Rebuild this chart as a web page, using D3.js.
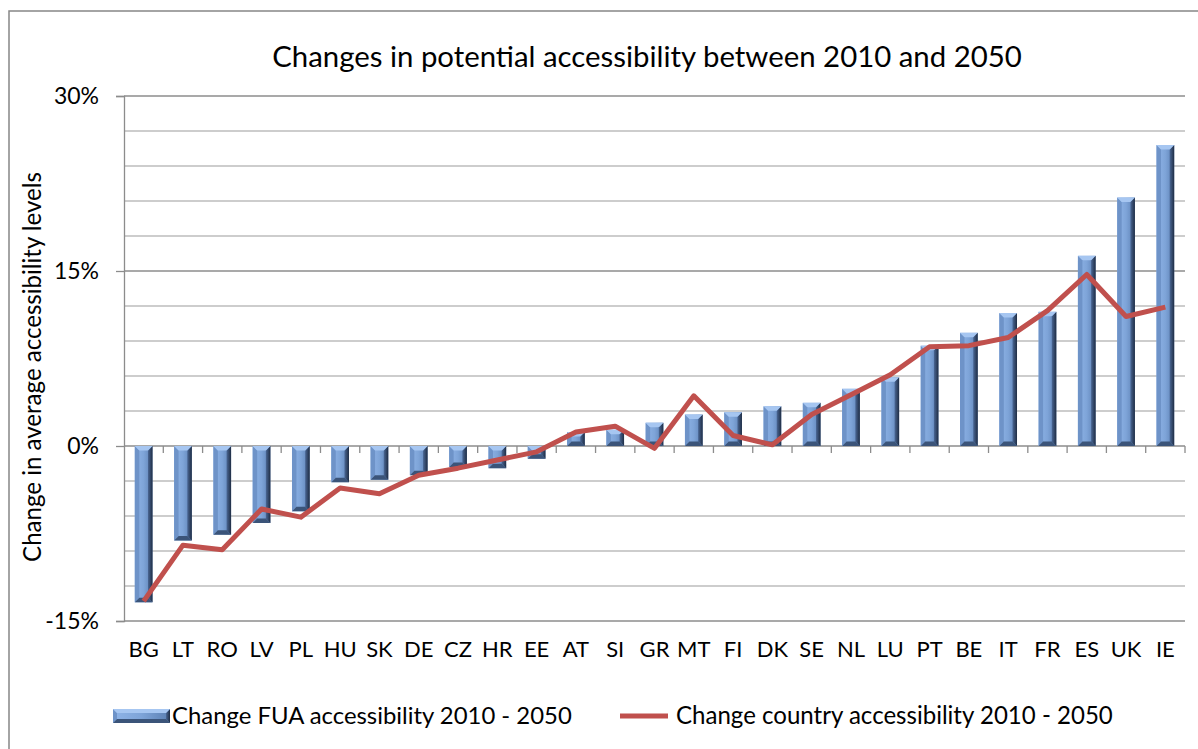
<!DOCTYPE html>
<html><head><meta charset="utf-8">
<script src="https://cdn.jsdelivr.net/npm/d3@7"></script>
<style>
body{margin:0;background:#fff}
svg{display:block}
text{font-family:Lato,"Open Sans",sans-serif;fill:#000}
</style>
</head><body>
<svg id="c" width="1198" height="749"></svg>
<script>
const categories = ["BG","LT","RO","LV","PL","HU","SK","DE","CZ","HR","EE","AT","SI","GR","MT","FI","DK","SE","NL","LU","PT","BE","IT","FR","ES","UK","IE"];
const fuaChange = [-13.4,-8.1,-7.6,-6.6,-5.6,-3.1,-2.9,-2.5,-1.8,-1.9,-1.1,1.2,1.4,2.0,2.7,2.9,3.4,3.7,4.9,5.9,8.6,9.7,11.4,11.5,16.3,21.3,25.8];
const countryChange = [-13.3,-8.5,-8.9,-5.4,-6.1,-3.6,-4.1,-2.5,-1.9,-1.2,-0.5,1.2,1.7,-0.2,4.3,0.9,0.1,2.7,4.4,6.1,8.5,8.6,9.3,11.6,14.7,11.1,11.9];
const yTickValues = [-15,0,15,30];
const gridValues = d3.range(-15, 31, 3);
const titleText = "Changes in potential accessibility between 2010 and 2050";
const yTitleText = "Change in average accessibility levels";
const legendBarText = "Change FUA accessibility 2010 - 2050";
const legendLineText = "Change country accessibility 2010 - 2050";

const svg = d3.select("#c");
const L = 124, R = 1185, T = 96, B = 621;

const x = d3.scaleBand().domain(categories).range([L, R]).paddingInner(0.55).paddingOuter(0.275);
const y = d3.scaleLinear().domain([-15, 30]).range([B, T]);

function fit(sel, target){
  const w = sel.node().getComputedTextLength();
  const fs = parseFloat(sel.attr("font-size"));
  sel.attr("font-size", fs * target / w);
}

// outer border
svg.append("path").attr("d", `M9,749 L9,11 L1198,11`).attr("fill","none").attr("stroke","#878787").attr("stroke-width",1.5);

// gridlines
svg.append("g").selectAll("line").data(gridValues).join("line")
  .attr("x1", L).attr("x2", R)
  .attr("y1", d => y(d)).attr("y2", d => y(d))
  .attr("stroke", d => d % 15 === 0 ? "#8c8c8c" : "#bdbdbd")
  .attr("stroke-width", 1.3);

// y axis
const yAxis = svg.append("g").attr("transform", `translate(${L},0)`)
  .call(d3.axisLeft(y).tickValues(yTickValues).tickFormat(d => d + "%").tickSize(8).tickPadding(17));
yAxis.select(".domain").attr("stroke","#8c8c8c").attr("stroke-width",1.3);
yAxis.selectAll(".tick line").attr("stroke","#8c8c8c").attr("stroke-width",1.3);
yAxis.selectAll(".tick text").attr("font-size",23).attr("font-family","Lato, 'Open Sans', sans-serif").attr("fill","#000").attr("dy","0.34em");

// x category ticks at boundaries along zero line
const step = x.step();
const bounds = d3.range(1, categories.length + 1).map(i => x(categories[i-1]) - x.bandwidth()*0 + (step - x.bandwidth())/2 + x.bandwidth());
svg.append("g").selectAll("line").data(bounds).join("line")
  .attr("x1", d => d).attr("x2", d => d)
  .attr("y1", y(0)).attr("y2", y(0) + 7)
  .attr("stroke","#8c8c8c").attr("stroke-width",1.3);

// x labels
svg.append("g").selectAll("text").data(categories).join("text")
  .attr("x", d => x(d) + x.bandwidth()/2)
  .attr("y", 657)
  .attr("text-anchor","middle")
  .attr("font-size", 22)
  .text(d => d);

// bars with bevel
const defs = svg.append("defs");
const g1 = defs.append("linearGradient").attr("id","barc").attr("x1","0").attr("x2","1").attr("y1","0").attr("y2","0");
g1.append("stop").attr("offset","0").attr("stop-color","#8fb4e7");
g1.append("stop").attr("offset","0.5").attr("stop-color","#7ea4d8");
g1.append("stop").attr("offset","1").attr("stop-color","#5b7fb2");
const g2 = defs.append("linearGradient").attr("id","barr").attr("x1","0").attr("x2","1").attr("y1","0").attr("y2","0");
g2.append("stop").attr("offset","0").attr("stop-color","#4a6795");
g2.append("stop").attr("offset","1").attr("stop-color","#1f2d44");

function bevel(g, x0, y0, w, h, b){
  const x1 = x0 + w, y1 = y0 + h;
  b = Math.min(b, h/2, w/2);
  g.append("rect").attr("x",x0).attr("y",y0).attr("width",w).attr("height",h).attr("fill","url(#barc)");
  g.append("polygon").attr("points",`${x0},${y0} ${x0+b},${y0+b} ${x0+b},${y1-b} ${x0},${y1}`).attr("fill","#6e93c8");
  g.append("polygon").attr("points",`${x1},${y0} ${x1-b},${y0+b} ${x1-b},${y1-b} ${x1},${y1}`).attr("fill","url(#barr)");
  g.append("polygon").attr("points",`${x0},${y0} ${x1},${y0} ${x1-b},${y0+b} ${x0+b},${y0+b}`).attr("fill","#a6c6f1");
  g.append("polygon").attr("points",`${x0},${y1} ${x0+b},${y1-b} ${x1-b},${y1-b} ${x1},${y1}`).attr("fill","#3b5479");
}

const barsG = svg.append("g");
categories.forEach((c, i) => {
  const v = fuaChange[i];
  const y0 = Math.min(y(v), y(0)), h = Math.abs(y(v) - y(0));
  bevel(barsG.append("g"), x(c), y0, x.bandwidth(), h, 4.5);
});

// line
const line = d3.line().x((d,i) => x(categories[i]) + x.bandwidth()/2).y(d => y(d));
svg.append("path").datum(countryChange).attr("d", line)
  .attr("fill","none").attr("stroke","#c0504d").attr("stroke-width",5).attr("stroke-linejoin","round");

// title
const tt = svg.append("text").attr("x",647).attr("y",67).attr("text-anchor","middle").attr("font-size",28).text(titleText);
fit(tt, 750);

// y title
const yt = svg.append("text").attr("transform","translate(41,367) rotate(-90)").attr("text-anchor","middle").attr("font-size",21).text(yTitleText);
fit(yt, 390);

// legend
bevel(svg.append("g"), 113, 709, 57, 14, 4);
const lt1 = svg.append("text").attr("x",172).attr("y",724).attr("font-size",22).text(legendBarText);
fit(lt1, 400);
svg.append("line").attr("x1",620).attr("x2",668).attr("y1",716).attr("y2",716).attr("stroke","#c0504d").attr("stroke-width",5);
const lt2 = svg.append("text").attr("x",676).attr("y",724).attr("font-size",22).text(legendLineText);
fit(lt2, 437);
</script>
</body></html>
